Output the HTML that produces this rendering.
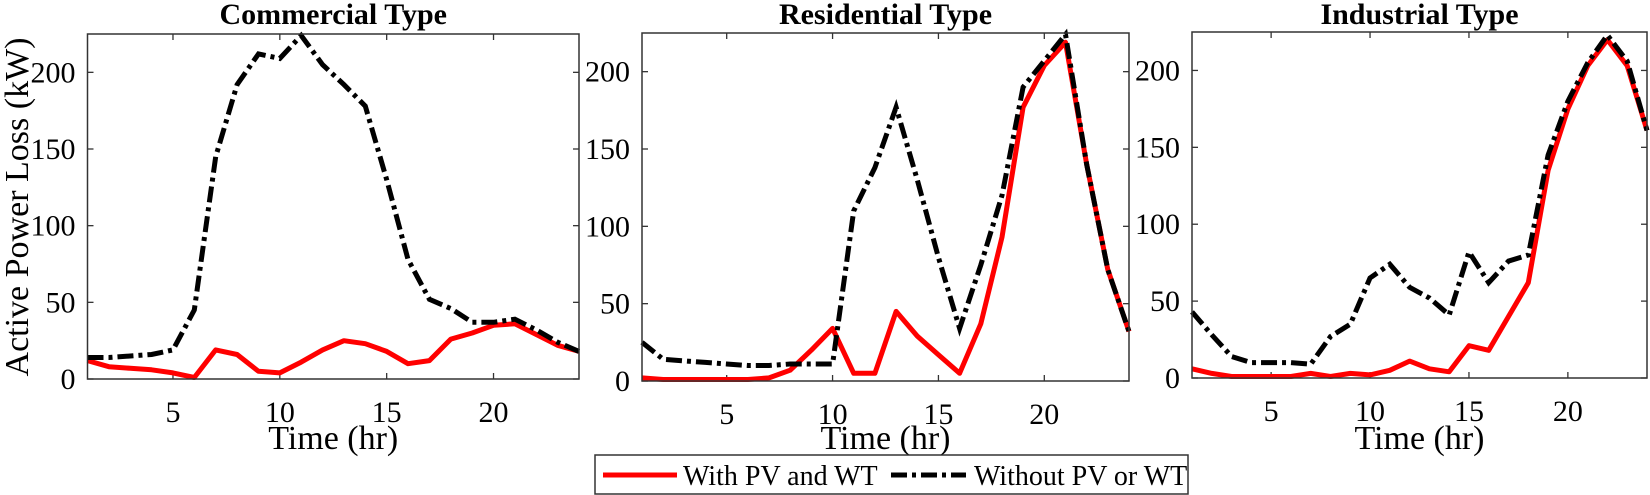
<!DOCTYPE html>
<html><head><meta charset="utf-8"><style>
html,body{margin:0;padding:0;background:#fff;}
svg{display:block;}
text{font-family:"Liberation Serif","Times New Roman",serif;}
</style></head><body>
<svg id="s" width="1650" height="495" viewBox="0 0 1650 495" xmlns="http://www.w3.org/2000/svg">
<rect width="1650" height="495" fill="#fff"/>
<g id="g"></g>
<rect x="595" y="455" width="593" height="39" fill="#fff" stroke="#333" stroke-width="1.5"/>
<line x1="603" y1="475" x2="677" y2="475" stroke="#ff0000" stroke-width="5"/>
<text x="683" y="485" font-size="28">With PV and WT</text>
<line x1="891" y1="475" x2="966" y2="475" stroke="#000" stroke-width="5" stroke-dasharray="16,5,4,5"/>
<text x="974" y="485" font-size="28">Without PV or WT</text>
<text transform="translate(28,207) rotate(-90)" text-anchor="middle" font-size="34">Active Power Loss (kW)</text>
</svg>
<script>
var NS="http://www.w3.org/2000/svg",g=document.getElementById("g");
function el(t,a,txt){var e=document.createElementNS(NS,t);for(var k in a)e.setAttribute(k,a[k]);if(txt!=null)e.textContent=txt;g.appendChild(e);return e;}
var P=[
{x0:87.5,x1:579,y0:34,y1:379,t:"Commercial Type",
 wo:[14,14,15,16,19,45,145,192,212,209,224,205,192,178,130,78,52,46,37,37,39,32,24,18],
 w:[12,8,7,6,4,1,19,16,5,4,11,19,25,23,18,10,12,26,30,35,36,29,22,18]},
{x0:642,x1:1129,y0:33,y1:381,t:"Residential Type",
 wo:[25,14,13,12,11,10,10,11,11,11,110,138,177,130,80,34,75,120,190,207,224,140,72,32],
 w:[2,1,1,1,1,1,2,7,20,34,5,5,45,29,17,5,37,93,177,204,219,140,72,32]},
{x0:1192,x1:1647,y0:32,y1:378,t:"Industrial Type",
 wo:[43,28,14,10,10,10,9,27,35,65,74,59,52,41,82,62,76,80,145,180,205,223,206,161],
 w:[6,3,1,1,1,1,3,1,3,2,5,11,6,4,21,18,40,62,135,175,203,220,203,161]}];
P.forEach(function(p){
 var X=function(h){return p.x0+(h-1)*(p.x1-p.x0)/23;},Y=function(v){return p.y1-v/225*(p.y1-p.y0);};
 var cx=(p.x0+p.x1)/2;
 el("text",{x:cx,y:24,"text-anchor":"middle","font-size":30,"font-weight":"bold"},p.t);
 [5,10,15,20].forEach(function(h){var x=X(h);
  el("line",{x1:x,y1:p.y1,x2:x,y2:p.y1-6,stroke:"#333","stroke-width":1.3});
  el("line",{x1:x,y1:p.y0,x2:x,y2:p.y0+6,stroke:"#333","stroke-width":1.3});
  el("text",{x:x,y:p.y1+43,"text-anchor":"middle","font-size":30},String(h));});
 [0,50,100,150,200].forEach(function(v){var y=Y(v);
  el("line",{x1:p.x0,y1:y,x2:p.x0+6,y2:y,stroke:"#333","stroke-width":1.3});
  el("line",{x1:p.x1,y1:y,x2:p.x1-6,y2:y,stroke:"#333","stroke-width":1.3});
  el("text",{x:p.x0-12,y:y+10,"text-anchor":"end","font-size":30},String(v));});
 el("text",{x:cx,y:449,"text-anchor":"middle","font-size":34},"Time (hr)");
 var pts=function(a){return a.map(function(v,i){return X(i+1).toFixed(1)+","+Y(v).toFixed(1);}).join(" ");};
 el("polyline",{points:pts(p.w),fill:"none",stroke:"#ff0000","stroke-width":5,"stroke-linejoin":"round"});
 el("polyline",{points:pts(p.wo),fill:"none",stroke:"#000","stroke-width":5,"stroke-dasharray":"16,5,4,5"});
 el("rect",{x:p.x0,y:p.y0,width:p.x1-p.x0,height:p.y1-p.y0,fill:"none",stroke:"#333","stroke-width":1.5});
});
</script>
</body></html>
